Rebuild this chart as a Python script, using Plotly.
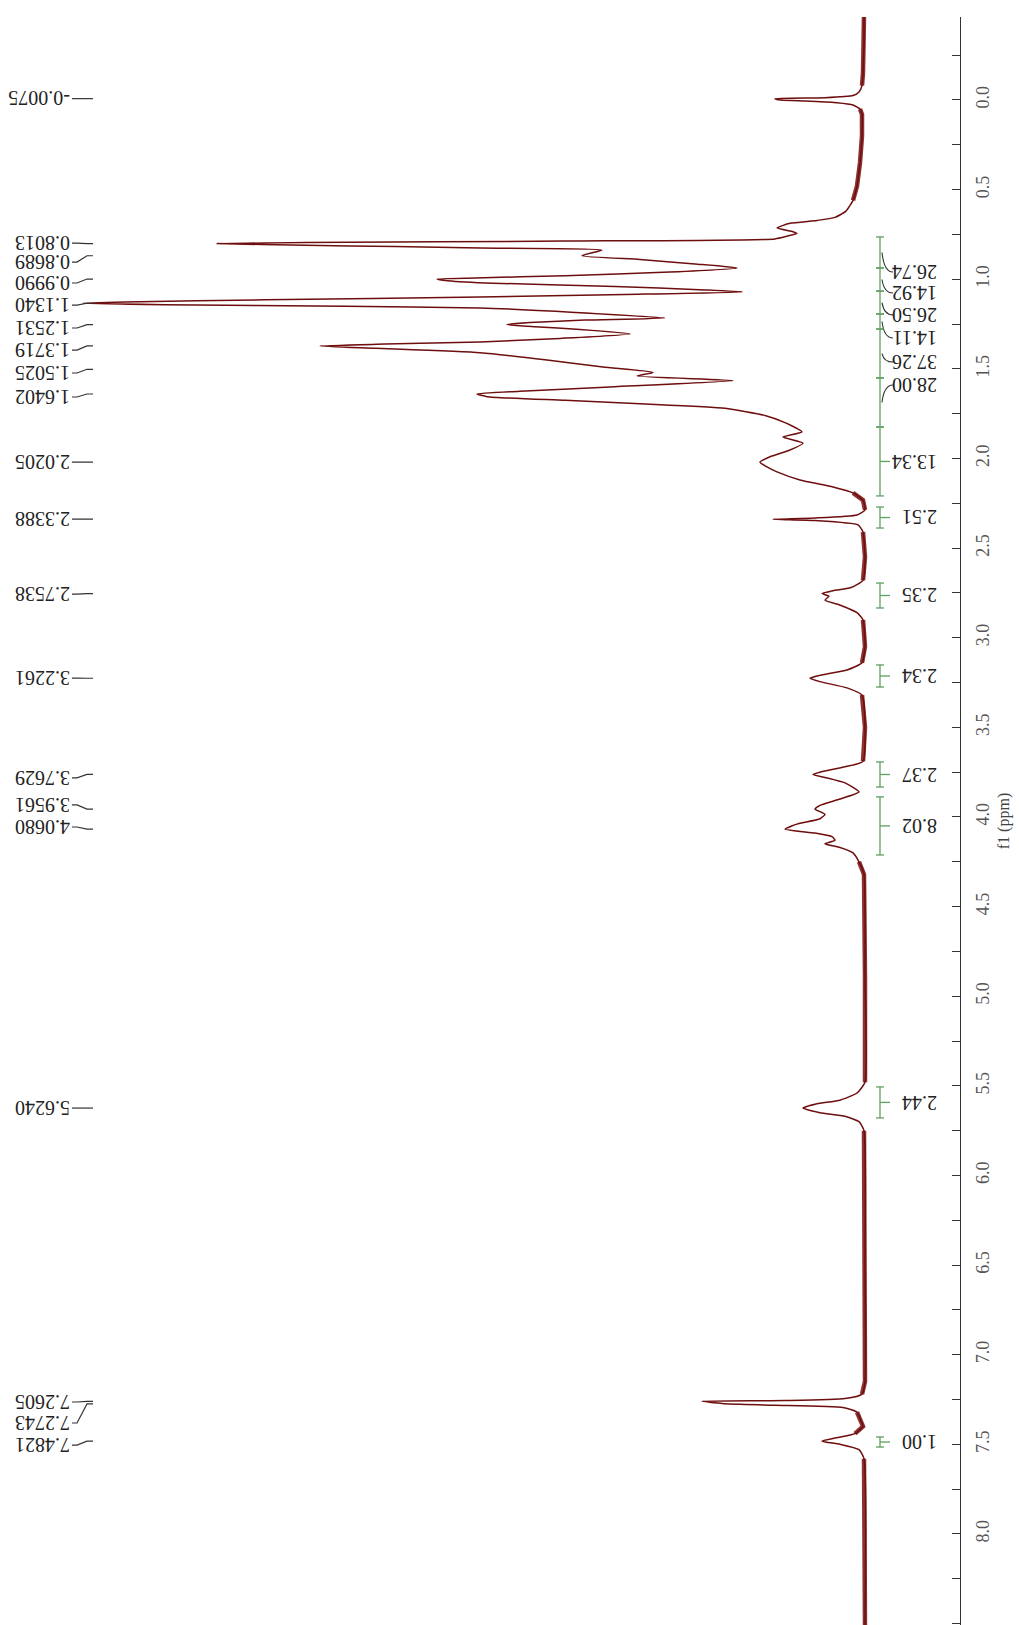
import plotly.graph_objects as go

# ---------------- data ----------------
# chemical shift (ppm) and signal intensity (arbitrary units, baseline = 0)
spec_ppm = [-0.47, -0.30, -0.15, -0.08, -0.045, -0.025, -0.013, -0.0075, 0.0, 0.006, 0.015, 0.028,
            0.05, 0.08, 0.20, 0.35, 0.48, 0.56, 0.62, 0.655, 0.672, 0.688, 0.714, 0.735, 0.745,
            0.76, 0.775, 0.787, 0.7955, 0.8013, 0.81, 0.818, 0.826, 0.837, 0.8689, 0.89, 0.915,
            0.937, 0.96, 0.98, 0.993, 0.999, 1.007, 1.021, 1.04, 1.06, 1.071, 1.085, 1.099,
            1.115, 1.127, 1.134, 1.142, 1.151, 1.16, 1.185, 1.216, 1.228, 1.242, 1.2531, 1.265,
            1.28, 1.305, 1.33, 1.35, 1.362, 1.3719, 1.385, 1.41, 1.45, 1.49, 1.52, 1.54, 1.565,
            1.60, 1.625, 1.6402, 1.655, 1.675, 1.695, 1.72, 1.76, 1.80, 1.852, 1.88, 1.914,
            1.953, 1.99, 2.0205, 2.047, 2.075, 2.12, 2.159, 2.192, 2.232, 2.287, 2.315, 2.332,
            2.3388, 2.346, 2.37, 2.41, 2.55, 2.68, 2.72, 2.74, 2.7538, 2.768, 2.79, 2.82, 2.86,
            2.90, 3.05, 3.14, 3.18, 3.21, 3.2261, 3.245, 3.28, 3.32, 3.50, 3.69, 3.72, 3.75,
            3.7629, 3.78, 3.81, 3.86, 3.90, 3.935, 3.9561, 3.985, 4.01, 4.04, 4.068, 4.09, 4.11,
            4.13, 4.15, 4.17, 4.20, 4.25, 4.32, 4.90, 5.48, 5.54, 5.58, 5.60, 5.624, 5.65, 5.67,
            5.70, 5.75, 6.50, 7.15, 7.22, 7.245, 7.256, 7.2605, 7.268, 7.2743, 7.282, 7.295,
            7.32, 7.37, 7.40, 7.44, 7.465, 7.4821, 7.50, 7.53, 7.58, 8.52]
spec_int = [1, 1, 2, 3, 6, 12, 40, 90, 84, 60, 28, 12,
            5, 3, 3, 5, 8, 12, 19, 30, 48, 75, 88, 72, 68,
            78, 90, 300, 560, 648, 560, 470, 385, 263, 283, 225, 170,
            128, 195, 300, 390, 428, 420, 380, 250, 160, 123, 240, 385,
            600, 740, 782, 700, 520, 385, 290, 200, 280, 335, 358, 330,
            285, 235, 305, 385, 480, 545, 490, 385, 318, 262, 212, 228, 132,
            250, 345, 388, 378, 300, 225, 140, 100, 80, 63, 82, 62,
            75, 95, 105, 98, 88, 65, 32, 12, 2, 0, 8, 50,
            92, 50, 7, 2, 0, 2, 14, 34, 43, 36, 40, 24, 8,
            2, 0, 3, 18, 45, 55, 45, 18, 3, 0, 2, 20, 45,
            52, 40, 20, 6, 25, 45, 50, 40, 45, 68, 80, 50, 33,
            30, 40, 25, 12, 6, 1, 0, 0, 8, 25, 48, 62, 45, 20,
            6, 1, 0, 0, 3, 20, 80, 163, 150, 140, 90, 22,
            8, 4, 2, 10, 30, 43, 25, 6, 1, 0]

# ranges where the baseline shows visible noise
noisy_ranges = [(-0.47, -0.06), (0.05, 0.60), (2.19, 2.31), (2.40, 2.68), (2.90, 3.14),
                (3.32, 3.69), (4.25, 5.52), (5.72, 7.22), (7.30, 7.44), (7.55, 8.52)]

# peak picking labels
peak_ppm = [-0.0075, 0.8013, 0.8689, 0.9990, 1.1340, 1.2531, 1.3719, 1.5025, 1.6402, 2.0205,
            2.3388, 2.7538, 3.2261, 3.7629, 3.9561, 4.0680, 5.6240, 7.2605, 7.2743, 7.4821]
peak_label_ppm = [-0.0075, 0.798, 0.904, 1.021, 1.144, 1.272, 1.395, 1.523, 1.657, 2.020,
                  2.338, 2.757, 3.225, 3.782, 3.933, 4.056, 5.624, 7.264, 7.381, 7.504]

# integrals
int_start = [0.764, 0.937, 1.066, 1.194, 1.278, 1.551, 1.824, 2.271, 2.695, 3.152, 3.693, 3.888, 5.506, 7.459]
int_end = [0.937, 1.066, 1.194, 1.278, 1.551, 1.824, 2.209, 2.388, 2.834, 3.275, 3.833, 4.212, 5.679, 7.515]
int_values = ["26.74", "14.92", "26.50", "14.11", "37.26", "28.00", "13.34", "2.51", "2.35",
              "2.34", "2.37", "8.02", "2.44", "1.00"]
int_label_ppm = [0.960, 1.077, 1.199, 1.328, 1.462, 1.590, None, None, None, None, None, None, None, None]

# ---------------- styling / layout constants ----------------
W, H = 1019, 1625
X_RANGE = [865, -95]          # intensity axis (reversed: peaks point left)
Y_RANGE = [8.508, -0.463]     # ppm axis (top = low ppm)
LINE_COLOR = "#6e0e0e"
INT_COLOR = "#5f9f5f"
FONT = "Liberation Serif"

fig = go.Figure()

# noisy baseline band
bx, by = [], []
for lo, hi in noisy_ranges:
    for p, v in zip(spec_ppm, spec_int):
        if lo <= p <= hi:
            bx.append(v)
            by.append(p)
    bx.append(None)
    by.append(None)
fig.add_trace(go.Scatter(x=bx, y=by, mode="lines",
                         line=dict(color="rgba(120,14,14,0.85)", width=4.5),
                         hoverinfo="skip", showlegend=False))

# spectrum
fig.add_trace(go.Scatter(x=spec_int, y=spec_ppm, mode="lines",
                         line=dict(color=LINE_COLOR, width=1.5, shape="spline", smoothing=0.5),
                         hoverinfo="skip", showlegend=False))

shapes = []
annotations = []

# peak labels (upside-down text on the left) with connectors
LBL_X = 793       # right edge of label text
for p, lp in zip(peak_ppm, peak_label_ppm):
    annotations.append(dict(x=LBL_X, y=lp, xref="x", yref="y", text=f"{p:.4f}",
                            showarrow=False, textangle=180, xanchor="right", yanchor="middle",
                            font=dict(family=FONT, size=20, color="#222")))
    shapes.append(dict(type="path", xref="x", yref="y",
                       path=f"M {LBL_X},{lp} L {LBL_X-5},{lp} L {LBL_X-15},{p} L {LBL_X-21},{p}",
                       line=dict(color="#333", width=1.2)))

# integrals
IX = -15
for i, (s, e, val, lp) in enumerate(zip(int_start, int_end, int_values, int_label_ppm)):
    shapes.append(dict(type="line", xref="x", yref="y", x0=IX, x1=IX, y0=s, y1=e,
                       line=dict(color=INT_COLOR, width=1.3)))
    for b in (s, e):
        shapes.append(dict(type="line", xref="x", yref="y", x0=IX + 4, x1=IX - 4, y0=b, y1=b,
                           line=dict(color=INT_COLOR, width=1.3)))
    c = (s + e) / 2
    if lp is None:
        shapes.append(dict(type="line", xref="x", yref="y", x0=IX, x1=IX - 10, y0=c, y1=c,
                           line=dict(color=INT_COLOR, width=1.3)))
        ly = c
    else:
        shapes.append(dict(type="path", xref="x", yref="y",
                           path=f"M {IX-2},{c} Q {IX-4},{lp} {IX-13},{lp}",
                           line=dict(color="#333", width=1.1)))
        ly = lp
    annotations.append(dict(x=-74, y=ly, xref="x", yref="y", text=val, showarrow=False,
                            textangle=180, xanchor="right", yanchor="middle",
                            font=dict(family=FONT, size=20, color="#222")))

fig.update_layout(
    width=W, height=H,
    margin=dict(l=0, r=59, t=17, b=0),
    paper_bgcolor="white", plot_bgcolor="white",
    shapes=shapes, annotations=annotations,
    xaxis=dict(range=X_RANGE, visible=False, showgrid=False, zeroline=False),
    yaxis=dict(range=Y_RANGE, side="right", showgrid=False, zeroline=False,
               showline=True, linecolor="#333", linewidth=1,
               ticks="inside", ticklen=8, tickcolor="#333", tick0=0, dtick=0.5,
               tickformat=".1f", tickangle=-90,
               tickfont=dict(family=FONT, size=18, color="#555"),
               ticklabelstandoff=6,
               minor=dict(dtick=0.25, ticks="inside", ticklen=8, tickcolor="#333"),
               title=dict(text="f1 (ppm)", font=dict(family=FONT, size=16, color="#444"),
                          standoff=6)),
)

fig.write_html("out.html", config={"displayModeBar": False},
               post_script="document.body.style.margin='0';document.body.style.overflow='hidden';")
